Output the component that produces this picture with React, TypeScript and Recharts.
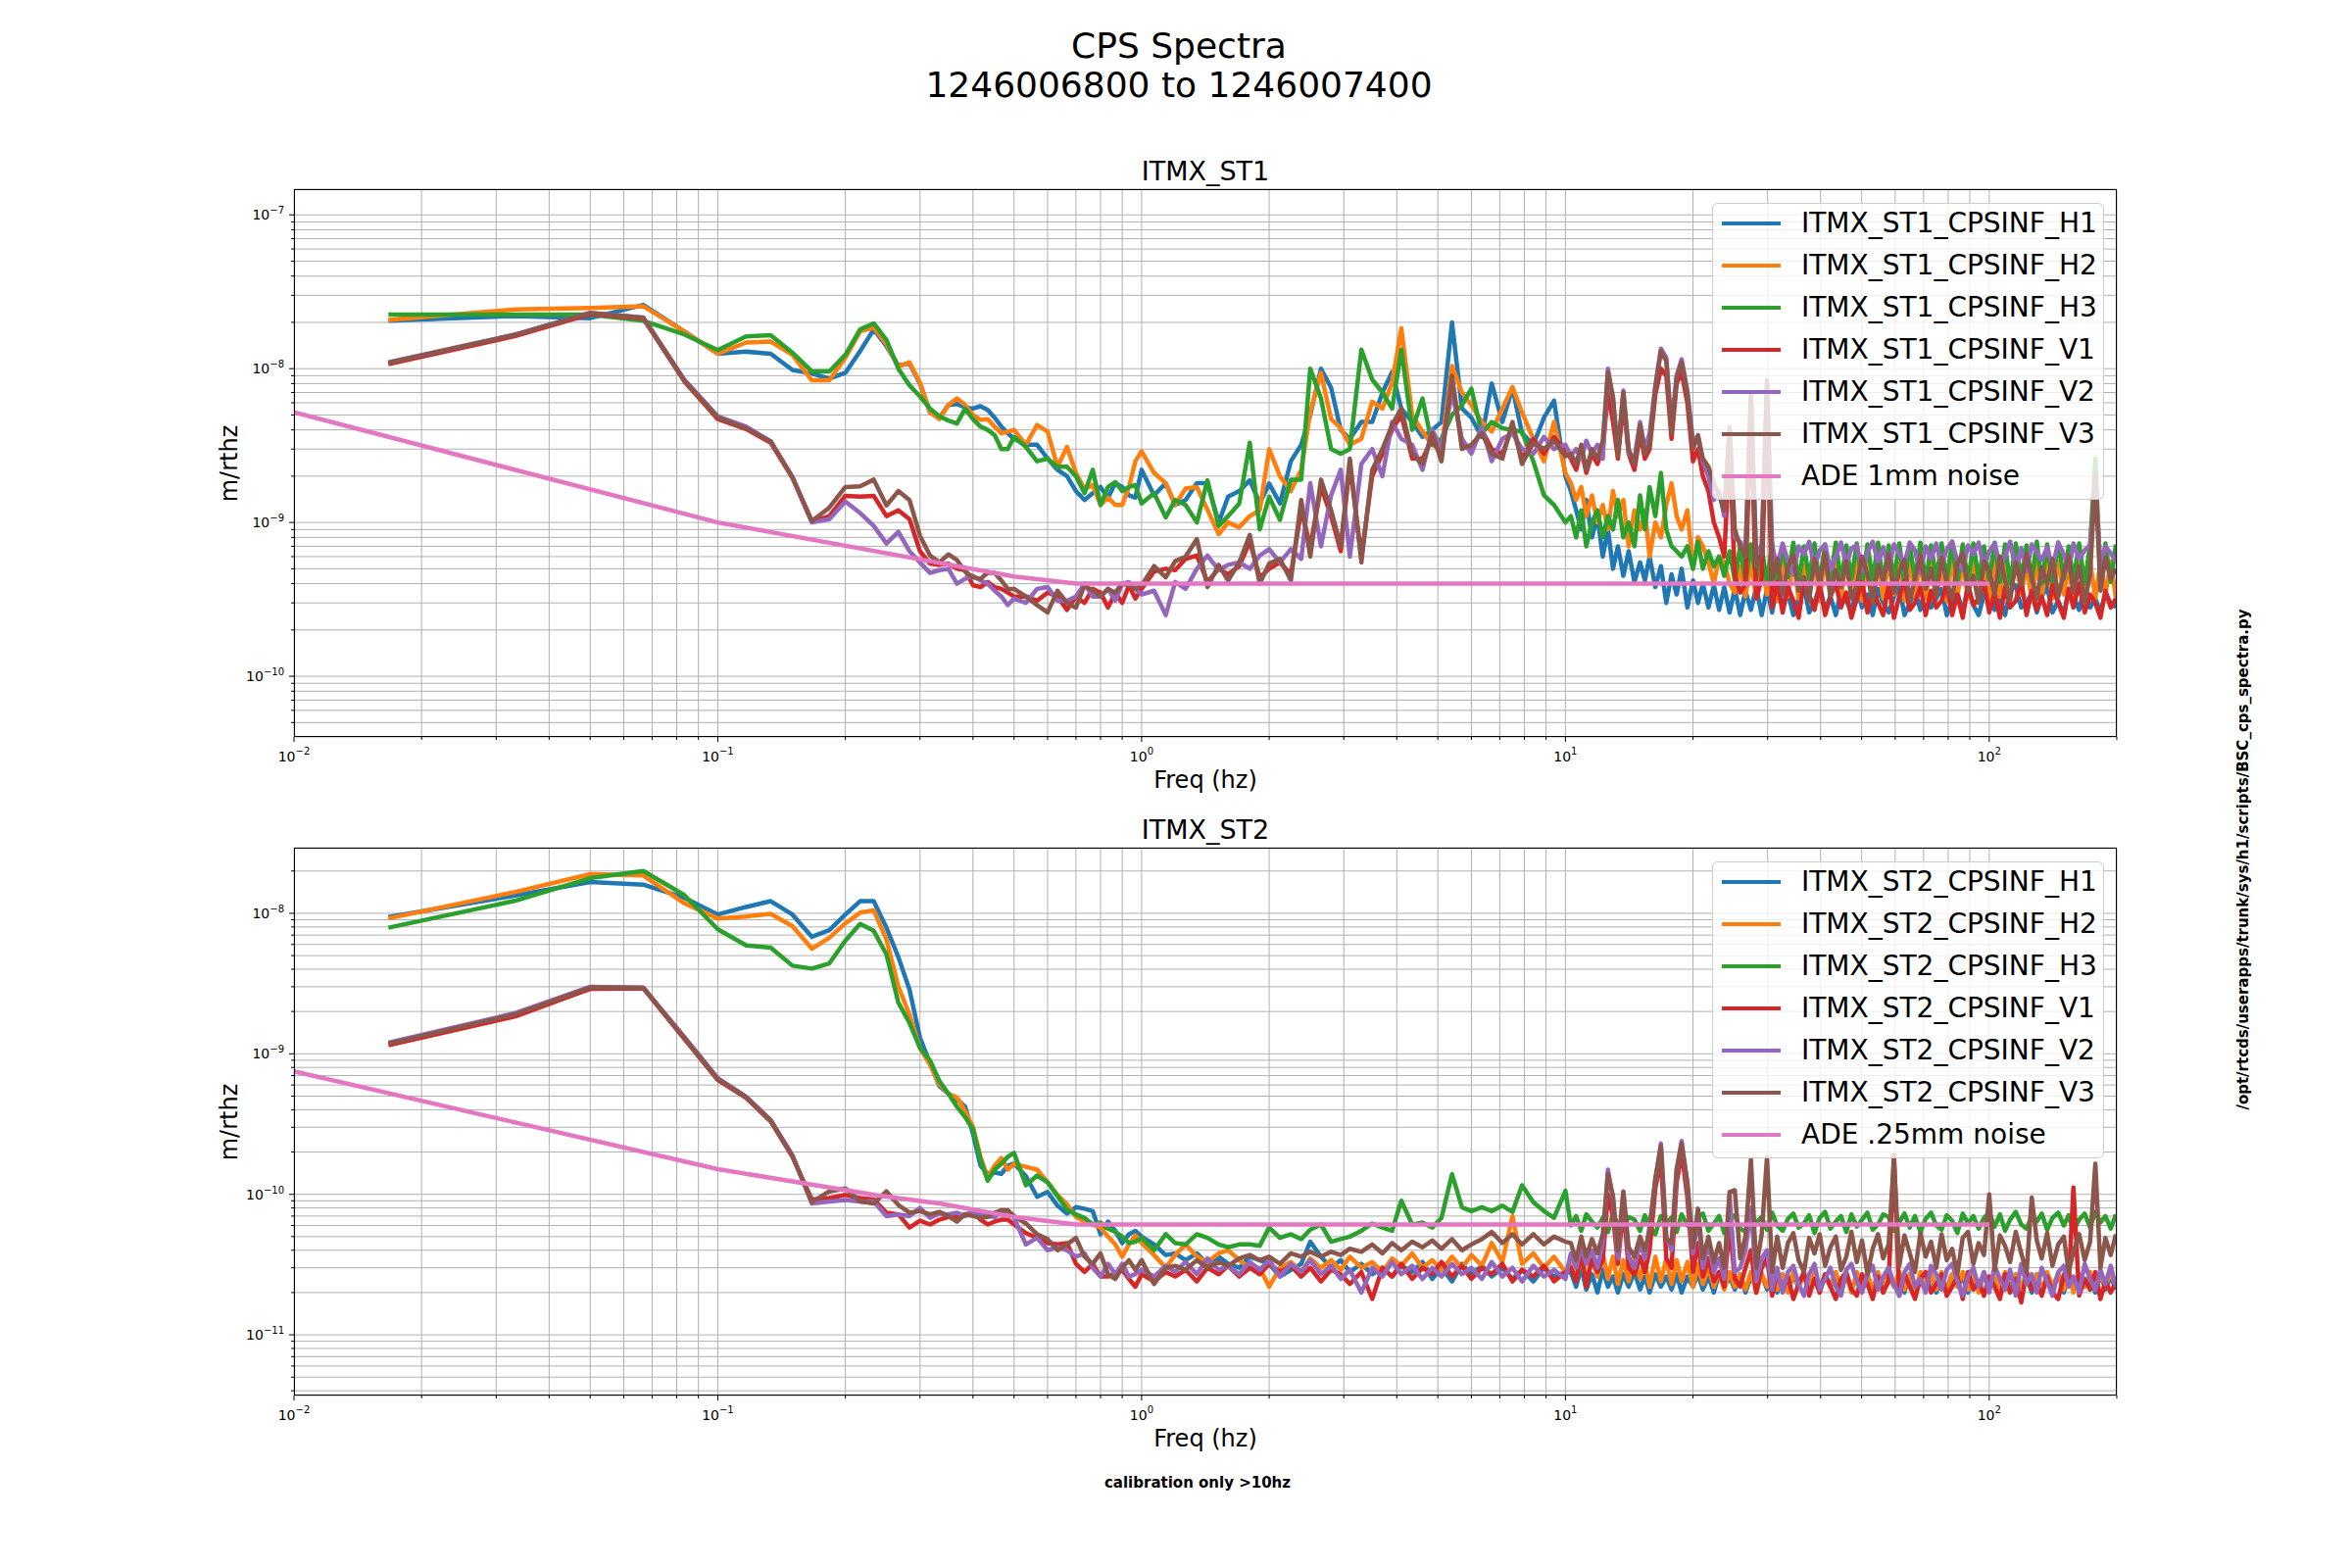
import { CartesianGrid, Line, LineChart, XAxis, YAxis } from "recharts";

const FONT = "'DejaVu Sans', 'Noto Sans', sans-serif";
const COLORS = ["#1f77b4", "#ff7f0e", "#2ca02c", "#d62728", "#9467bd", "#8c564b"];
const ADE_COLOR = "#e377c2";
const KEYS = ["h1", "h2", "h3", "v1", "v2", "v3"];
const LINE_W = 4.5;

// frequency bins (Hz), shared by both stages
const freqs = [
  0.0167, 0.0333, 0.05, 0.0667, 0.0833, 0.1, 0.1167, 0.1333, 0.15, 0.1667,
  0.1833, 0.2, 0.2167, 0.2333, 0.25, 0.2667, 0.2833, 0.3, 0.3167, 0.3333,
  0.35, 0.3667, 0.3833, 0.4, 0.4167, 0.4333, 0.45, 0.4667, 0.4833, 0.5,
  0.5333, 0.5667, 0.6, 0.6333, 0.6667, 0.7, 0.7333, 0.7667, 0.8, 0.8333,
  0.8667, 0.9, 0.9333, 0.9667, 1.0, 1.07, 1.14, 1.2, 1.27, 1.35,
  1.43, 1.52, 1.6, 1.7, 1.8, 1.9, 2.0, 2.12, 2.25, 2.38,
  2.5, 2.65, 2.8, 2.95, 3.1, 3.3, 3.5, 3.7, 3.9, 4.1,
  4.35, 4.6, 4.85, 5.1, 5.4, 5.7, 6.0, 6.35, 6.7, 7.1,
  7.5, 7.9, 8.4, 8.9, 9.4, 10,
  10.3, 10.6, 10.9, 11.2, 11.55, 11.9, 12.25, 12.6, 12.95, 13.3,
  13.7, 14.1, 14.55, 15, 15.4, 15.8, 16.3, 16.8, 17.3, 17.8,
  18.3, 18.8, 19.4, 20, 20.55, 21.1, 21.75, 22.4, 23.05, 23.7,
  24.4, 25.1, 25.85, 26.6, 27.4, 28.2, 29.05, 29.9, 30.75, 31.6,
  32.55, 33.5, 34.5, 35.5, 36.55, 37.6, 38.7, 39.8, 41, 42.2,
  43.45, 44.7, 46, 47.3, 48.7, 50.1, 51.6, 53.1, 54.65, 56.2,
  57.9, 59.6, 61.35, 63.1, 64.95, 66.8, 68.8, 70.8, 72.9, 75,
  77.2, 79.4, 81.75, 84.1, 86.6, 89.1, 91.75, 94.4, 97.2, 100,
  103, 106, 109, 112, 115.5, 119, 122.5, 126, 129.5, 133,
  137, 141, 145.5, 150, 154, 158, 163, 168, 173, 178,
  183, 188, 193.5, 199,
];

// ---- ITMX_ST1, values in 1e-10 m/rthz ----
const st1H1 = [
  205, 220, 213, 260, 175, 125, 129, 125, 98, 93,
  86, 94, 130, 180, 140, 105, 108, 80, 52, 48,
  58, 59, 56, 55, 57, 54, 48, 42, 38, 35,
  32, 32, 26, 22, 20, 16, 14, 15.5, 17, 14.5,
  18, 17, 15, 14.5, 22, 15, 18, 13, 14, 18,
  18, 10, 14.7, 16, 18.8, 13.3, 17.9, 13.3, 25, 32,
  50, 100, 75, 40, 35, 45, 45, 70, 95, 55,
  45, 36, 40, 45, 200, 55, 48, 36, 80, 45,
  75, 38, 32, 48, 62, 20,
  16, 12, 9, 14, 8, 11, 6, 9, 5, 7,
  4.5, 6.5, 4.1, 5.5, 4.2, 6, 3.8, 5.2, 3.0, 4.6,
  3.4, 5.0, 2.8, 4.2, 3.0, 4.0, 2.8, 3.9, 2.7, 3.8,
  2.6, 3.7, 2.5, 3.6, 2.7, 3.8, 2.5, 3.7, 2.6, 3.9,
  2.9, 3.5, 2.5, 3.2, 3.8, 2.6, 3.0, 3.9, 2.7, 3.3,
  2.5, 3.6, 3.1, 2.6, 3.9, 2.8, 3.4, 2.5, 3.7, 3.0,
  2.6, 3.3, 3.8, 2.5, 3.0, 3.6, 2.7, 3.9, 2.8, 3.2,
  3.7, 2.5, 3.1, 3.5, 2.6, 3.9, 2.9, 2.5, 3.4, 3.8,
  2.7, 3.2, 2.5, 3.6, 3.9, 2.8, 3.0, 3.5, 2.6, 3.3,
  3.8, 2.6, 3.1, 2.5, 3.7, 3.3, 2.7, 3.9, 2.8, 3.2,
  2.6, 3.5, 3.0, 2.8,
];
const st1H2 = [
  207, 243, 248, 255, 175, 125, 148, 150, 123, 84,
  84, 118, 175, 185, 145, 103, 110, 81, 52, 47,
  58, 64, 58, 50, 46.5, 47, 42, 38, 39, 40,
  32, 43, 39, 23, 31, 21, 16.5, 17.5, 13, 14.5,
  13, 13, 17, 25, 29, 21, 18, 13, 16.6, 17,
  12.1, 8.4, 10, 9.3, 11, 12, 30, 20, 16, 22,
  52, 94, 47, 41, 32, 35, 61, 55, 81, 183,
  50, 39, 32, 30, 104, 70, 58, 45, 39, 55,
  76, 52, 35, 25, 45, 21,
  18, 14, 17, 11, 15, 10, 13, 9, 16, 11,
  14, 7, 12, 9, 12, 6, 10, 8, 13, 18,
  11, 9, 12, 5, 8, 7, 5.5, 4, 6, 5.5,
  4, 3.5, 5.2, 3.3, 5.6, 3.2, 5.4, 3.4, 5.8, 3.1,
  5.5, 3.3, 5.7, 3.2, 5.3, 3.4, 5.6, 3.1, 5.9, 3.3,
  5.4, 3.2, 5.7, 3.4, 5.5, 3.1, 5.8, 3.3, 5.5, 3.2,
  5.6, 3.4, 5.4, 3.1, 5.7, 3.3, 5.6, 3.2, 5.5, 3.4,
  5.3, 3.1, 5.8, 3.3, 5.5, 3.2, 5.7, 3.4, 5.4, 3.1,
  5.6, 3.3, 5.5, 3.2, 5.8, 3.4, 5.4, 3.1, 5.7, 3.3,
  5.5, 3.2, 5.6, 3.4, 5.3, 3.1, 5.7, 3.3, 5.6, 3.2,
  5.5, 3.4, 5.6, 3.2,
];
const st1H3 = [
  225, 225, 225, 205, 167, 132, 162, 165, 127, 96,
  96, 123, 180, 197, 154, 100, 78, 66, 55, 49,
  46, 44, 55, 47, 42, 40, 37, 30, 30, 36,
  31, 25, 26, 23, 23, 20, 15.5, 22, 13, 17,
  18.3, 16, 17, 17.5, 13.3, 15.5, 10.8, 14, 13, 10,
  18.8, 9.5, 11, 13.3, 33, 9, 14.7, 10.4, 19, 19,
  100, 64, 30, 28, 30, 133, 85, 70, 55, 133,
  40, 64, 32, 35, 50, 58, 74, 38, 45, 41,
  40, 39, 25, 15, 13, 10,
  11, 8, 12, 7, 10, 12, 8, 11, 9, 14,
  8, 10, 7, 15, 9, 17, 11, 21, 9, 7,
  6.5, 6, 7, 5, 7.5, 5, 6.5, 5.2, 6, 4.5,
  6.5, 4.2, 7.0, 4.1, 7.2, 4.3, 7.0, 4.0, 7.3, 4.1,
  7.1, 4.4, 7.4, 4.1, 7.0, 4.3, 7.3, 4.0, 7.2, 4.2,
  7.4, 4.1, 7.1, 4.3, 7.3, 4.0, 7.2, 4.2, 7.4, 4.1,
  7.1, 4.3, 7.3, 4.0, 7.2, 4.2, 7.4, 4.1, 7.1, 4.3,
  7.3, 4.2, 7.5, 4.0, 7.2, 4.1, 7.3, 4.3, 7.0, 4.2,
  7.4, 4.1, 7.2, 4.0, 7.3, 4.3, 7.1, 4.2, 7.5, 4.0,
  7.2, 4.1, 7.4, 4.3, 7.0, 4.2, 7.3, 4.0, 7.2, 26,
  4.2, 7.3, 4.1, 7.2,
];
const st1V1 = [
  107, 163, 226, 212, 83, 47, 40.5, 33, 19.5, 10.1,
  11, 14.9, 14.7, 14.9, 11, 12, 10.5, 6.5, 5.4, 5.3,
  5.4, 5.0, 4.9, 3.9, 3.8, 4.1, 3.8, 3.7, 3.5, 3.3,
  3.3, 3.1, 3.5, 3.3, 2.7, 3.3, 3.0, 3.7, 3.5, 2.8,
  3.5, 3.0, 3.9, 3.2, 3.7, 4.8, 5.0, 4.9, 5.8, 6.1,
  4.1, 5.0, 4.6, 5.2, 7.5, 4.4, 5.0, 5.5, 4.6, 12,
  7, 17, 11, 6.5, 24, 6, 20, 28, 40, 50,
  26, 26, 35, 27, 85, 32, 30, 40, 30, 28,
  42, 26, 35, 28, 36, 29,
  26, 22, 30, 21, 28, 24, 30, 70, 45, 26,
  60, 28, 22, 38, 26, 30, 68, 100, 90, 35,
  80, 95, 60, 25, 30, 20, 16, 10, 8, 6,
  30, 4.5, 3.5, 4.0, 50, 3.2, 4.3, 60, 2.8, 4.1,
  2.6, 3.8, 3.1, 2.4, 4.2, 3.4, 2.7, 3.9, 2.5, 3.3,
  4.0, 2.8, 3.5, 2.4, 3.2, 4.1, 2.6, 3.7, 3.0, 2.5,
  3.9, 2.4, 3.3, 4.2, 2.7, 3.0, 3.8, 2.5, 3.6, 2.8,
  3.1, 4.0, 2.5, 3.4, 2.4, 3.9, 2.9, 3.2, 4.1, 2.6,
  3.5, 2.4, 3.8, 2.8, 3.1, 4.2, 2.5, 3.6, 2.7, 3.3,
  2.5, 3.9, 3.0, 2.4, 3.7, 2.8, 4.0, 2.6, 3.4, 3.0,
  2.4, 3.6, 2.8, 3.2,
];
const st1V2 = [
  110, 167, 231, 215, 85, 49, 42, 33.8, 19.8, 10.0,
  10.5, 13.7, 11.5, 9.5, 7.3, 8.7, 6.5, 5.5, 4.7, 4.9,
  5.0, 4.0, 4.3, 4.5, 4.2, 4.0, 3.6, 3.3, 2.9, 3.2,
  3.0, 3.7, 3.8, 3.1, 3.1, 3.3, 4.0, 3.3, 3.3, 3.7,
  3.1, 4.0, 4.1, 3.7, 3.4, 3.6, 2.5, 4.1, 3.7, 5.0,
  6.1, 4.9, 5.3, 5.5, 5.0, 6.1, 6.7, 5.5, 6.7, 5.8,
  18, 7, 15, 22, 6, 24, 30, 20, 45, 35,
  32, 22, 40, 30, 70, 35, 28, 42, 25, 35,
  38, 30, 28, 36, 30, 32,
  27, 30, 26, 34, 28, 32, 26, 100, 62, 30,
  72, 28, 26, 45, 30, 38, 78, 135, 118, 42,
  90, 115, 72, 34, 36, 25, 20, 14, 16, 11,
  42, 8, 7.5, 6.5, 65, 6.0, 7.2, 80, 7.0, 5.2,
  7.3, 5.6, 4.6, 7.0, 6.2, 7.5, 5.1, 6.6, 7.2, 4.9,
  6.0, 7.4, 5.3, 6.8, 7.1, 4.8, 6.4, 7.5, 5.5, 6.9,
  5.0, 7.2, 6.3, 5.4, 7.4, 6.6, 4.7, 7.0, 5.8, 7.3,
  5.2, 6.7, 7.5, 5.6, 4.9, 7.1, 6.2, 7.4, 5.1, 6.5,
  7.3, 5.3, 6.0, 7.5, 5.0, 6.8, 4.8, 7.2, 6.4, 5.7,
  6.9, 5.1, 7.4, 6.2, 4.9, 7.3, 5.8, 6.6, 7.1, 18,
  5.4, 7.0, 6.3, 5.6,
];
const st1V3 = [
  109, 166, 230, 214, 84, 48, 41, 33.5, 19.7, 10.2,
  12.5, 17, 17.2, 19, 12.9, 16, 14, 8.2, 6.1, 5.5,
  6.2, 5.7, 4.8, 4.4, 4.3, 4.7, 4.7, 4.2, 3.7, 3.7,
  3.3, 2.9, 2.6, 3.6, 3.0, 2.8, 3.9, 3.6, 3.3, 3.7,
  3.5, 4.0, 3.9, 3.7, 3.9, 5.2, 4.4, 5.6, 6.0, 7.8,
  3.8, 5.3, 4.2, 5.5, 8.3, 4.0, 5.4, 5.8, 4.2, 14,
  6, 19, 12, 7, 26, 5.5, 22, 30, 43, 55,
  28, 24, 38, 25, 90, 30, 32, 38, 28, 26,
  45, 24, 33, 30, 34, 27,
  28, 24, 32, 22, 30, 26, 34, 95, 66, 27,
  70, 30, 24, 43, 28, 32, 75, 130, 112, 38,
  88, 110, 68, 30, 37, 26, 23, 18, 15, 12,
  40, 9, 7, 6, 70, 5.2, 6.2, 84, 4.2, 5.8,
  3.4, 5.2, 6.1, 3.6, 4.4, 3.1, 5.8, 4.0, 6.3, 3.3,
  4.9, 3.8, 5.6, 3.2, 3.9, 6.0, 4.6, 3.0, 5.3, 4.2,
  6.2, 3.5, 4.8, 5.7, 3.1, 4.3, 6.1, 3.7, 5.0, 3.3,
  5.9, 4.1, 3.2, 5.4, 6.3, 3.6, 4.5, 3.0, 5.6, 4.8,
  3.4, 6.0, 4.2, 3.1, 5.5, 3.9, 6.2, 4.4, 3.2, 5.1,
  4.0, 5.8, 3.3, 4.7, 6.1, 3.5, 5.2, 3.0, 4.6, 20,
  3.6, 5.9, 4.3, 5.0,
];
const ade1Freqs = [0.01, 0.1, 0.5, 0.7, 100];
const ade1Values = [52, 10, 4.45, 4.0, 4.0];
const st1Labels = [
  "ITMX_ST1_CPSINF_H1", "ITMX_ST1_CPSINF_H2", "ITMX_ST1_CPSINF_H3",
  "ITMX_ST1_CPSINF_V1", "ITMX_ST1_CPSINF_V2", "ITMX_ST1_CPSINF_V3",
];

// ---- ITMX_ST2, values in 1e-12 m/rthz ----
const st2H1 = [
  9400, 13400, 16700, 16000, 12900, 9800, 11100, 12200, 9800, 6800,
  7600, 9800, 12200, 12200, 7900, 4880, 2870, 1300, 860, 590,
  520, 470, 420, 270, 160, 140, 143, 140, 160, 165,
  135, 96, 104, 83, 73, 81, 79, 76, 52, 64,
  55, 45, 52, 55, 50, 44, 37, 38, 34, 38,
  32, 36, 32, 30, 36, 34, 32, 26, 29, 32,
  46, 36, 30, 34, 28, 32, 27, 30, 26, 31,
  28, 33, 25, 30, 24, 32, 27, 31, 26, 30,
  25, 29, 24, 30, 26, 28,
  28, 22, 30, 21, 27, 20, 29, 22, 26, 20,
  27, 22, 28, 21, 26, 20, 27, 22, 26, 21,
  27, 20, 26, 22, 27, 21, 26, 20, 27, 22,
  26, 21, 27, 20, 26, 22, 27, 21, 26, 20,
  27, 21, 26, 22, 27, 20, 26, 21, 27, 22,
  26, 20, 27, 21, 26, 22, 27, 20, 26, 21,
  27, 22, 26, 20, 27, 21, 26, 22, 27, 20,
  26, 21, 27, 22, 26, 20, 27, 21, 26, 22,
  27, 20, 26, 21, 27, 22, 26, 20, 27, 21,
  26, 22, 27, 20, 26, 21, 27, 22, 26, 20,
  27, 21, 26, 21,
];
const st2H2 = [
  9200, 14200, 19000, 18600, 11800, 9200, 9500, 9900, 8100, 5600,
  6700, 8500, 10100, 10500, 6500, 3010, 1900, 1100, 835, 607,
  520, 490, 390, 303, 185, 132, 160, 181, 150, 164,
  157, 150, 122, 99, 85, 69, 64, 61, 58, 50,
  44, 36, 44, 51, 45, 37, 30, 37, 44, 36,
  33, 38, 40, 34, 30, 30, 22, 30, 33, 28,
  35, 30, 34, 29, 36, 30, 33, 28, 35, 31,
  38, 30, 34, 29, 36, 30, 37, 31, 45, 33,
  70, 32, 38, 30, 36, 28,
  32, 25, 36, 24, 35, 26, 38, 25, 36, 23,
  34, 24, 37, 25, 33, 22, 36, 24, 35, 23,
  34, 24, 33, 22, 32, 23, 30, 22, 28, 21,
  28, 22, 27, 21, 28, 20, 27, 22, 28, 21,
  27, 20, 28, 22, 27, 21, 28, 20, 27, 22,
  28, 21, 27, 20, 28, 22, 27, 21, 28, 20,
  27, 22, 28, 21, 27, 20, 28, 22, 27, 21,
  28, 20, 27, 22, 28, 21, 27, 20, 28, 22,
  27, 21, 28, 20, 27, 22, 28, 21, 27, 20,
  28, 22, 27, 21, 28, 20, 27, 22, 28, 21,
  27, 22, 28, 22,
];
const st2H3 = [
  7900, 12300, 17800, 20000, 13500, 7700, 5900, 5700, 4240, 4040,
  4400, 6400, 8400, 7500, 5100, 2310, 1660, 1100, 900, 640,
  520, 420, 355, 290, 177, 125, 150, 165, 185, 197,
  116, 136, 122, 97, 78, 72, 68, 61, 63, 57,
  54, 50, 45, 46, 49, 40, 52, 45, 44, 52,
  49, 44, 42, 44, 44, 43, 58, 49, 52, 48,
  56, 61, 46, 48, 50, 55, 62, 58, 55, 90,
  61, 63, 58, 68, 139, 81, 76, 81, 76, 83,
  75, 116, 88, 76, 68, 106,
  60, 70, 55, 72, 64, 58, 68, 54, 73, 61,
  57, 69, 66, 55, 71, 59, 52, 70, 63, 68,
  54, 72, 60, 56, 69, 73, 55, 62, 70, 53,
  66, 71, 57, 54, 72, 63, 69, 56, 74, 60,
  55, 67, 73, 58, 62, 71, 53, 68, 75, 57,
  64, 70, 54, 72, 59, 66, 74, 56, 61, 72,
  69, 55, 63, 73, 58, 70, 54, 67, 74, 60,
  56, 71, 65, 53, 73, 62, 70, 57, 68, 74,
  59, 72, 55, 66, 75, 61, 57, 70, 64, 73,
  56, 68, 74, 60, 71, 55, 66, 73, 58, 75,
  63, 70, 57, 72,
];
const st2V1 = [
  1150, 1850, 2900, 2930, 1280, 650, 485, 330, 185, 92,
  94, 99, 94, 92, 74, 72, 58, 65, 61, 66,
  69, 69, 72, 74, 66, 61, 64, 66, 66, 61,
  53, 49, 45, 44, 45, 32, 28, 32, 26, 26,
  27, 29, 25, 22, 27, 24, 28, 26, 29, 24,
  30, 27, 31, 26, 30, 27, 32, 28, 31, 26,
  30, 24, 29, 27, 23, 28, 18, 30, 26, 32,
  25, 30, 27, 33, 26, 31, 25, 30, 27, 32,
  24, 29, 26, 31, 24, 28,
  30, 24, 40, 22, 35, 28, 34, 100, 70, 32,
  80, 30, 27, 36, 28, 40, 110, 180, 35, 30,
  120, 200, 95, 28, 45, 26, 35, 24, 28, 22,
  60, 25, 22, 30, 40, 20, 30, 35, 19, 28,
  21, 26, 18, 23, 28, 19, 25, 20, 27, 22,
  18, 25, 28, 21, 19, 27, 23, 18, 26, 20,
  24, 190, 19, 27, 22, 18, 25, 28, 20, 23,
  27, 19, 22, 26, 18, 28, 21, 24, 19, 26,
  22, 18, 27, 20, 25, 17, 28, 21, 23, 19,
  26, 20, 18, 27, 23, 112, 19, 25, 21, 28,
  18, 24, 20, 24,
];
const st2V2 = [
  1200, 1950, 3000, 2960, 1320, 670, 495, 338, 190, 86,
  89, 91, 89, 89, 70, 72, 70, 80, 68, 73,
  72, 74, 70, 74, 72, 70, 69, 74, 77, 68,
  44, 49, 40, 42, 40, 36, 38, 30, 26, 32,
  27, 32, 26, 27, 29, 26, 31, 28, 33, 27,
  35, 29, 31, 27, 33, 29, 34, 26, 32, 28,
  34, 27, 31, 25, 29, 20, 30, 26, 33, 27,
  31, 25, 30, 26, 32, 27, 30, 25, 33, 26,
  30, 24, 31, 26, 29, 25,
  38, 30, 42, 32, 40, 30, 45, 150, 90, 35,
  105, 36, 30, 45, 35, 60, 125, 230, 50, 40,
  145, 240, 115, 38, 70, 30, 45, 28, 35, 25,
  98, 28, 30, 40, 80, 24, 35, 40, 21, 30,
  20, 28, 31, 23, 19, 27, 32, 21, 25, 30,
  22, 19, 29, 32, 24, 20, 27, 31, 21, 26,
  30, 23, 19, 28, 32, 22, 25, 20, 31, 27,
  21, 29, 32, 24, 19, 26, 30, 22, 28, 20,
  31, 25, 21, 29, 19, 32, 23, 27, 20, 30,
  24, 19, 28, 31, 22, 26, 20, 32, 25, 21,
  29, 23, 31, 22,
];
const st2V3 = [
  1180, 1910, 2970, 2950, 1300, 660, 490, 335, 187, 88,
  105, 110, 89, 86, 105, 84, 74, 76, 72, 75,
  70, 64, 72, 70, 68, 69, 74, 77, 77, 70,
  62, 52, 48, 40, 44, 49, 36, 32, 38, 27,
  25, 30, 34, 29, 34, 23, 30, 31, 29, 34,
  30, 33, 31, 35, 37, 34, 36, 32, 38, 36,
  39, 36, 39, 37, 41, 39, 44, 38, 45, 40,
  46, 42, 47, 41, 48, 40, 44, 48, 54, 45,
  52, 44, 52, 44, 50, 46,
  45, 34, 50, 36, 48, 38, 52, 140, 98, 40,
  104, 42, 36, 50, 40, 55, 130, 220, 48, 45,
  152, 230, 122, 42, 79, 35, 50, 33, 45, 30,
  104, 107, 35, 50, 177, 30, 52, 185, 28, 50,
  30, 45, 53, 34, 28, 49, 38, 52, 31, 42,
  50, 29, 36, 54, 33, 47, 27, 41, 52, 35,
  44, 180, 31, 51, 38, 28, 53, 36, 46, 30,
  52, 34, 41, 27, 49, 54, 32, 45, 37, 100,
  29, 51, 43, 33, 54, 38, 28, 95, 47, 35,
  53, 31, 44, 50, 28, 39, 52, 34, 46, 165,
  30, 49, 37, 52,
];
const ade2Freqs = [0.01, 0.1, 0.24, 0.333, 0.5, 0.7, 100];
const ade2Values = [750, 151, 98, 86, 69, 61, 61];
const st2Labels = [
  "ITMX_ST2_CPSINF_H1", "ITMX_ST2_CPSINF_H2", "ITMX_ST2_CPSINF_H3",
  "ITMX_ST2_CPSINF_V1", "ITMX_ST2_CPSINF_V2", "ITMX_ST2_CPSINF_V3",
];

// ---- ticks ----
const xTicks = [
  0.01, 0.02, 0.03, 0.04, 0.05, 0.06, 0.07, 0.08, 0.09,
  0.1, 0.2, 0.3, 0.4, 0.5, 0.6, 0.7, 0.8, 0.9,
  1, 2, 3, 4, 5, 6, 7, 8, 9,
  10, 20, 30, 40, 50, 60, 70, 80, 90,
  100, 200,
];
const st1YTicks = [
  5e-11, 6e-11, 7e-11, 8e-11, 9e-11,
  1e-10, 2e-10, 3e-10, 4e-10, 5e-10, 6e-10, 7e-10, 8e-10, 9e-10,
  1e-9, 2e-9, 3e-9, 4e-9, 5e-9, 6e-9, 7e-9, 8e-9, 9e-9,
  1e-8, 2e-8, 3e-8, 4e-8, 5e-8, 6e-8, 7e-8, 8e-8, 9e-8,
  1e-7,
];
const st2YTicks = [
  4e-12, 5e-12, 6e-12, 7e-12, 8e-12, 9e-12,
  1e-11, 2e-11, 3e-11, 4e-11, 5e-11, 6e-11, 7e-11, 8e-11, 9e-11,
  1e-10, 2e-10, 3e-10, 4e-10, 5e-10, 6e-10, 7e-10, 8e-10, 9e-10,
  1e-9, 2e-9, 3e-9, 4e-9, 5e-9, 6e-9, 7e-9, 8e-9, 9e-9,
  1e-8, 2e-8,
];

const buildRows = (series: number[][], unit: number) =>
  freqs.map((f, i) => {
    const row: Record<string, number> = { f };
    KEYS.forEach((k, j) => {
      row[k] = series[j][i] * unit;
    });
    return row;
  });

const buildAde = (fs: number[], vs: number[], unit: number) =>
  fs.map((f, i) => ({ f, ade: vs[i] * unit }));

const st1Rows = buildRows([st1H1, st1H2, st1H3, st1V1, st1V2, st1V3], 1e-10);
const st2Rows = buildRows([st2H1, st2H2, st2H3, st2V1, st2V2, st2V3], 1e-12);
const ade1Rows = buildAde(ade1Freqs, ade1Values, 1e-10);
const ade2Rows = buildAde(ade2Freqs, ade2Values, 1e-12);

const isDecade = (v: number) => Math.abs(Math.log10(v) - Math.round(Math.log10(v))) < 1e-6;
const expText = (v: number) => {
  const e = Math.round(Math.log10(v));
  return e < 0 ? `\u2212${-e}` : `${e}`;
};

function XTick({ x, y, payload }: any) {
  const v = payload.value as number;
  const major = isDecade(v);
  return (
    <g>
      <line x1={x} x2={x} y1={y} y2={y + (major ? 5 : 3)} stroke="#000" strokeWidth={1} />
      {major && (
        <text x={x} y={y + 25} textAnchor="middle" fontFamily={FONT} fontSize={14} fill="#000">
          10
          <tspan dy={-7} fontSize={10}>
            {expText(v)}
          </tspan>
        </text>
      )}
    </g>
  );
}

function YTick({ x, y, payload }: any) {
  const v = payload.value as number;
  const major = isDecade(v);
  return (
    <g>
      <line x1={x - (major ? 5 : 3)} x2={x} y1={y} y2={y} stroke="#000" strokeWidth={1} />
      {major && (
        <text x={x - 10} y={y + 5} textAnchor="end" fontFamily={FONT} fontSize={14} fill="#000">
          10
          <tspan dy={-6} fontSize={10}>
            {expText(v)}
          </tspan>
        </text>
      )}
    </g>
  );
}

type PanelProps = {
  rows: Record<string, number>[];
  ade: { f: number; ade: number }[];
  labels: string[];
  adeLabel: string;
  yDomain: [number, number];
  yTicks: number[];
  title: string;
  top: number;
  height: number;
  marginTop: number;
};

function Panel({ rows, ade, labels, adeLabel, yDomain, yTicks, title, top, height, marginTop }: PanelProps) {
  const plotTop = top + marginTop;
  const plotBottom = top + height - 48;
  const legendItems = [...labels.map((l, i) => ({ l, c: COLORS[i] })), { l: adeLabel, c: ADE_COLOR }];
  return (
    <>
      <div style={{ position: "absolute", left: 0, top, width: 2400, height }}>
        <LineChart
          width={2400}
          height={height}
          data={rows}
          margin={{ top: marginTop, right: 240, bottom: 0, left: 0 }}
        >
          <CartesianGrid stroke="#b0b0b0" strokeWidth={1} />
          <XAxis
            dataKey="f"
            type="number"
            scale="log"
            domain={[0.01, 200]}
            allowDataOverflow
            ticks={xTicks}
            interval={0}
            height={48}
            tickSize={0}
            tickMargin={0}
            tickLine={false}
            axisLine={false}
            tick={(p: any) => <XTick {...p} />}
          />
          <YAxis
            type="number"
            scale="log"
            domain={yDomain}
            allowDataOverflow
            ticks={yTicks}
            interval={0}
            width={300}
            tickSize={0}
            tickMargin={0}
            tickLine={false}
            axisLine={false}
            tick={(p: any) => <YTick {...p} />}
          />
          {KEYS.map((k, i) => (
            <Line
              key={k}
              dataKey={k}
              stroke={COLORS[i]}
              strokeWidth={LINE_W}
              strokeLinejoin="round"
              dot={false}
              activeDot={false}
              isAnimationActive={false}
            />
          ))}
          <Line
            data={ade}
            dataKey="ade"
            stroke={ADE_COLOR}
            strokeWidth={LINE_W}
            dot={false}
            activeDot={false}
            isAnimationActive={false}
          />
        </LineChart>
      </div>
      <div
        style={{
          position: "absolute",
          left: 300,
          top: plotTop,
          width: 1860,
          height: plotBottom - plotTop,
          border: "1px solid #000",
          boxSizing: "border-box",
          pointerEvents: "none",
        }}
      />
      <div style={centered(1230, plotTop - 19, 27)}>{title}</div>
      <div style={centered(1230, plotBottom + 44, 24)}>Freq (hz)</div>
      <div style={{ ...centered(234, (plotTop + plotBottom) / 2, 24), transform: "translate(-50%, -50%) rotate(-90deg)" }}>
        m/rthz
      </div>
      <div
        style={{
          position: "absolute",
          left: 1747,
          top: plotTop + 14,
          width: 400,
          height: 303,
          boxSizing: "border-box",
          border: "1px solid #cccccc",
          borderRadius: 6,
          background: "rgba(255,255,255,0.8)",
        }}
      >
        {legendItems.map((it, i) => (
          <div key={it.l}>
            <div
              style={{
                position: "absolute",
                left: 9,
                top: 20 + 43 * i - 2,
                width: 60,
                height: 4,
                background: it.c,
              }}
            />
            <div
              style={{
                position: "absolute",
                left: 90,
                top: 20 + 43 * i,
                transform: "translateY(-50%)",
                fontFamily: FONT,
                fontSize: 28,
                lineHeight: 1,
                whiteSpace: "nowrap",
                color: "#000",
              }}
            >
              {it.l}
            </div>
          </div>
        ))}
      </div>
    </>
  );
}

function centered(x: number, y: number, size: number, weight: number | string = "normal"): React.CSSProperties {
  return {
    position: "absolute",
    left: x,
    top: y,
    transform: "translate(-50%, -50%)",
    fontFamily: FONT,
    fontSize: size,
    fontWeight: weight as any,
    lineHeight: 1,
    whiteSpace: "nowrap",
    color: "#000",
  };
}

export default function App() {
  return (
    <div style={{ position: "absolute", left: 0, top: 0, width: 2400, height: 1600, background: "#fff", overflow: "hidden" }}>
      <div style={centered(1203, 47, 36)}>CPS Spectra</div>
      <div style={centered(1203, 87, 36)}>1246006800 to 1246007400</div>
      <Panel
        rows={st1Rows}
        ade={ade1Rows}
        labels={st1Labels}
        adeLabel="ADE 1mm noise"
        yDomain={[4.03e-11, 1.47e-7]}
        yTicks={st1YTicks}
        title="ITMX_ST1"
        top={0}
        height={800}
        marginTop={193}
      />
      <Panel
        rows={st2Rows}
        ade={ade2Rows}
        labels={st2Labels}
        adeLabel="ADE .25mm noise"
        yDomain={[3.7e-12, 2.93e-8]}
        yTicks={st2YTicks}
        title="ITMX_ST2"
        top={800}
        height={672}
        marginTop={65}
      />
      <div style={centered(1222, 1513, 15, "bold")}>calibration only &gt;10hz</div>
      <div style={{ ...centered(2289, 877, 15, 600), transform: "translate(-50%, -50%) rotate(-90deg)" }}>
        /opt/rtcds/userapps/trunk/sys/h1/scripts/BSC_cps_spectra.py
      </div>
    </div>
  );
}
